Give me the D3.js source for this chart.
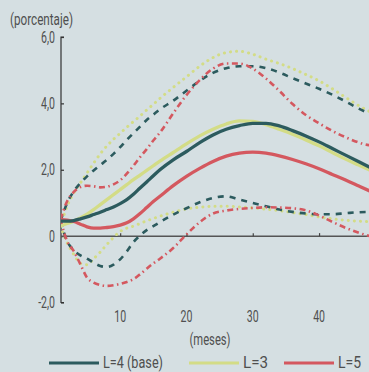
<!DOCTYPE html>
<html><head><meta charset="utf-8">
<script src="https://cdn.jsdelivr.net/npm/d3@7"></script>
<style>
html,body{margin:0;padding:0;background:#d5dfe2;}
svg{display:block;}
text{font-family:"Roboto","Liberation Sans",sans-serif;fill:#4f4f4f;}
</style></head>
<body><svg id="c" width="369" height="372"></svg>
<script>
const months = [1,2,3,4,5,6,7,8,9,10,11,12,13,14,15,16,18,20,22,24,26,28,30,32,34,36,38,40,42,44,46,48];
const L4 = [0.45,0.45,0.47,0.52,0.58,0.65,0.72,0.80,0.88,0.98,1.10,1.26,1.45,1.63,1.82,2.0,2.30,2.55,2.82,3.05,3.22,3.33,3.40,3.40,3.32,3.18,3.02,2.84,2.64,2.44,2.24,2.04];
const L4hi = [0.45,1.0,1.35,1.6,1.8,1.98,2.14,2.3,2.48,2.68,2.9,3.1,3.3,3.5,3.66,3.82,4.08,4.38,4.68,4.92,5.06,5.12,5.12,5.06,4.93,4.76,4.6,4.44,4.26,4.06,3.84,3.66];
const L4lo = [0.45,-0.15,-0.42,-0.58,-0.68,-0.8,-0.9,-0.93,-0.86,-0.7,-0.46,-0.18,0.02,0.18,0.3,0.42,0.65,0.84,1.02,1.15,1.2,1.1,1.0,0.9,0.8,0.73,0.68,0.66,0.66,0.69,0.72,0.73];
const L3 = [0.30,0.38,0.45,0.55,0.66,0.80,0.95,1.10,1.25,1.40,1.55,1.70,1.84,1.98,2.12,2.26,2.52,2.78,3.02,3.22,3.38,3.47,3.46,3.36,3.22,3.07,2.90,2.72,2.52,2.32,2.14,1.96];
const L3hi = [0.30,0.9,1.3,1.6,1.9,2.2,2.48,2.72,2.92,3.1,3.28,3.45,3.62,3.8,3.97,4.15,4.48,4.8,5.12,5.38,5.53,5.57,5.48,5.33,5.2,5.05,4.87,4.68,4.44,4.18,3.93,3.72];
const L3lo = [0.30,-0.2,-0.55,-0.82,-0.86,-0.68,-0.48,-0.25,-0.04,0.14,0.24,0.3,0.38,0.46,0.53,0.6,0.72,0.82,0.87,0.9,0.9,0.88,0.85,0.81,0.77,0.71,0.65,0.58,0.52,0.48,0.45,0.43];
const L5 = [0.50,0.48,0.44,0.36,0.28,0.24,0.24,0.26,0.29,0.33,0.40,0.52,0.68,0.86,1.04,1.20,1.52,1.80,2.04,2.25,2.41,2.50,2.53,2.50,2.42,2.31,2.18,2.03,1.86,1.69,1.51,1.33];
const L5hi = [0.5,1.05,1.33,1.48,1.52,1.5,1.47,1.49,1.56,1.68,1.88,2.12,2.38,2.62,2.88,3.12,3.7,4.25,4.7,5.05,5.2,5.2,5.05,4.75,4.38,3.98,3.65,3.4,3.17,2.98,2.82,2.72];
const L5lo = [0.5,-0.15,-0.45,-0.85,-1.25,-1.4,-1.47,-1.5,-1.48,-1.44,-1.38,-1.3,-1.15,-0.98,-0.82,-0.68,-0.36,0.05,0.42,0.68,0.77,0.82,0.85,0.87,0.86,0.84,0.78,0.62,0.43,0.25,0.1,-0.02];
const yTicks = [-2,0,2,4,6];
const yTickLabels = ["-2,0","0","2,0","4,0","6,0"];
const xTicks = [10,20,30,40];
const legendLabels = ["L=4 (base)","L=3","L=5"];

const teal="#2c5b5e", green="#d3dc86", red="#d4585f";
const svg = d3.select("#c");
const x = d3.scaleLinear().domain([1,48]).range([60.5,372.1]);
const y = d3.scaleLinear().domain([-2,6]).range([302.5,37]);
const FS = 16;

// squeeze text horizontally to mimic the condensed face of the original
function condense(sel, ratio){
  sel.each(function(){
    const w = this.getComputedTextLength();
    d3.select(this).attr("textLength", w*ratio).attr("lengthAdjust","spacingAndGlyphs");
  });
}

svg.append("defs").append("clipPath").attr("id","clip")
  .append("rect").attr("x",61).attr("y",0).attr("width",308).attr("height",372);

// axes
const yAxis = svg.append("g").attr("transform","translate(61,0)")
  .call(d3.axisRight(y).tickValues(yTicks).tickSize(3).tickFormat(""));
yAxis.select(".domain").attr("stroke","#333").attr("stroke-width",1.2).attr("d","M3,37H0V302.5H3");
yAxis.selectAll(".tick line").attr("stroke","#333").attr("stroke-width",1.2);
const yl = svg.selectAll(".ylab").data(yTicks).enter().append("text")
  .attr("x",55).attr("y",d=>y(d)+5.5).attr("text-anchor","end").attr("font-size",FS)
  .text((d,i)=>yTickLabels[i]);
condense(yl,0.66);

const xAxis = svg.append("g").attr("transform",`translate(0,${y(0)})`)
  .call(d3.axisTop(x).tickValues(xTicks).tickSize(3).tickFormat(""));
xAxis.select(".domain").attr("stroke","#555").attr("stroke-width",1.5).attr("d",`M61,0H369`);
xAxis.selectAll(".tick line").attr("stroke","#444").attr("stroke-width",1.2);
const xl = svg.selectAll(".xlab").data(xTicks).enter().append("text")
  .attr("x",d=>x(d)).attr("y",321.5).attr("text-anchor","middle").attr("font-size",FS)
  .text(d=>d);
condense(xl,0.66);

const t1 = svg.append("text").attr("x",10).attr("y",25).attr("font-size",FS).text("(porcentaje)");
const t2 = svg.append("text").attr("x",210).attr("y",345).attr("text-anchor","middle").attr("font-size",FS).text("(meses)");
t1.attr("textLength",63).attr("lengthAdjust","spacingAndGlyphs");
t2.attr("textLength",41).attr("lengthAdjust","spacingAndGlyphs");

const line = d3.line().x((d,i)=>x(months[i])).y(d=>y(d)).curve(d3.curveMonotoneX);
const g = svg.append("g").attr("clip-path","url(#clip)");
const series = [
  {v:L3hi,c:green,w:3,dash:"0.1,6",cap:"round"},
  {v:L3lo,c:green,w:3,dash:"0.1,6",cap:"round"},
  {v:L4hi,c:teal,w:2.6,dash:"6,6",cap:"butt"},
  {v:L4lo,c:teal,w:2.6,dash:"6,6",cap:"butt"},
  {v:L5hi,c:red,w:2.6,dash:"6,3.5,1.5,3.5",cap:"butt"},
  {v:L5lo,c:red,w:2.6,dash:"6,3.5,1.5,3.5",cap:"butt"},
  {v:L3,c:green,w:3.3,dash:null,cap:"butt"},
  {v:L5,c:red,w:3.3,dash:null,cap:"butt"},
  {v:L4,c:teal,w:3.3,dash:null,cap:"butt"}
];
series.forEach(s=>{
  g.append("path").attr("d",line(s.v)).attr("fill","none").attr("stroke",s.c)
   .attr("stroke-width",s.w).attr("stroke-dasharray",s.dash).attr("stroke-linecap",s.cap);
});

// legend
const legX = [49,189,284];
const legW = [60,25,23];
const lg = svg.append("g");
[teal,green,red].forEach((c,i)=>{
  lg.append("line").attr("x1",legX[i]).attr("x2",legX[i]+50).attr("y1",363).attr("y2",363)
    .attr("stroke",c).attr("stroke-width",3.2);
  lg.append("text").attr("x",legX[i]+54).attr("y",368).attr("font-size",FS)
    .attr("textLength",legW[i]).attr("lengthAdjust","spacingAndGlyphs").text(legendLabels[i]);
});
</script></body></html>
